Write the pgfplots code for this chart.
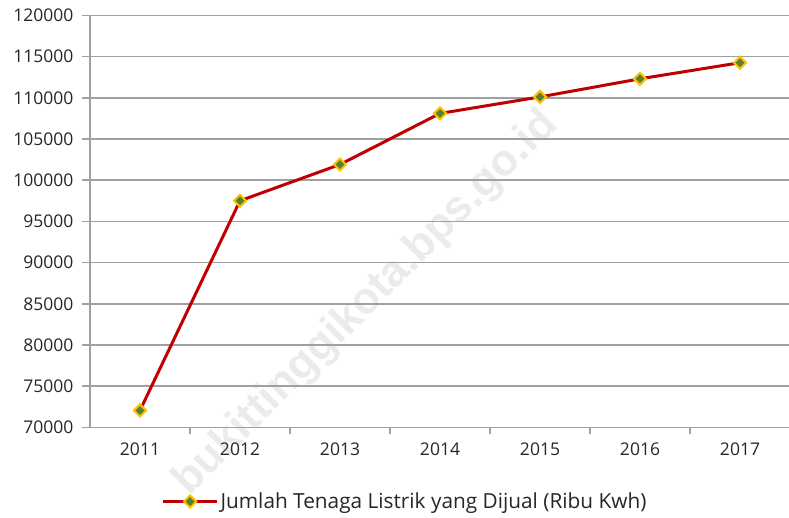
\documentclass[border=0pt]{standalone}
\usepackage{pgfplots}
\pgfplotsset{compat=1.18}
\usepackage{fontspec}
\setmainfont{Open Sans}
\newfontfamily\wmfont{Liberation Sans}
\definecolor{linered}{HTML}{C00000}
\definecolor{mkgreen}{HTML}{548235}
\definecolor{mkyellow}{HTML}{FFC000}
\definecolor{gridgray}{HTML}{A0A0A0}
\definecolor{txt}{HTML}{262626}
\definecolor{wm}{HTML}{EBEBEB}
\begin{document}
\begin{tikzpicture}[x=1pt,y=1pt]
\begin{scope}
\clip (0,0) rectangle (789,518);
\node[rotate=45, anchor=south east, text=wm, font=\fontsize{44}{50}\wmfont\bfseries, inner sep=0pt] at (566,385) {bukittinggikota.bps.go.id};
\end{scope}
\begin{axis}[
  at={(90,110)}, anchor=south west,
  scale only axis, width=700pt, height=412pt,
  xmin=-0.5, xmax=6.5, ymin=70000, ymax=120000,
  xtick={0,...,6}, xticklabels={2011,2012,2013,2014,2015,2016,2017},
  minor xtick={0.5,1.5,...,6.5},
  ytick={70000,75000,...,120000},
  scaled y ticks=false,
  yticklabel={\pgfmathprintnumber[fixed,precision=0,1000 sep={},assume math mode=true]{\tick}},
  ymajorgrids, grid style={gridgray, line width=1.6pt},
  axis x line*=bottom, axis y line*=left,
  axis line style={gridgray, line width=1.6pt, -},
  x axis line style={-}, y axis line style={-},
  major x tick style={draw=none},
  minor x tick style={gridgray, line width=1.6pt},
  minor tick length=7pt,
  major tick length=8pt,
  tick align=outside,
  ytick style={gridgray, line width=1.6pt},
  tick label style={font=\fontsize{17.5}{20}\selectfont, text=txt},
  yticklabel style={xshift=-5pt},
  xticklabel style={yshift=-4pt},
  legend style={at={(0.45,-0.18)}, anchor=center, draw=none, fill=none,
    font=\fontsize{20.8}{24}\selectfont, text=txt},
  legend image code/.code={\draw[mark repeat=2, mark phase=2] plot coordinates {(0pt,0pt) (27pt,0pt) (54pt,0pt)};},
  clip=false,
]
\addplot[linered, line width=3pt, mark=square*, mark size=4.3pt,
  mark options={fill=mkgreen, draw=mkyellow, line width=2pt, rotate=45}]
  coordinates {(0,72050) (1,97500) (2,101900) (3,108100) (4,110100) (5,112300) (6,114250)};
\addlegendentry{Jumlah Tenaga Listrik yang Dijual (Ribu Kwh)}
\end{axis}
\pgfresetboundingbox
\path[use as bounding box] (0,0) rectangle (789,518);
\end{tikzpicture}
\end{document}
